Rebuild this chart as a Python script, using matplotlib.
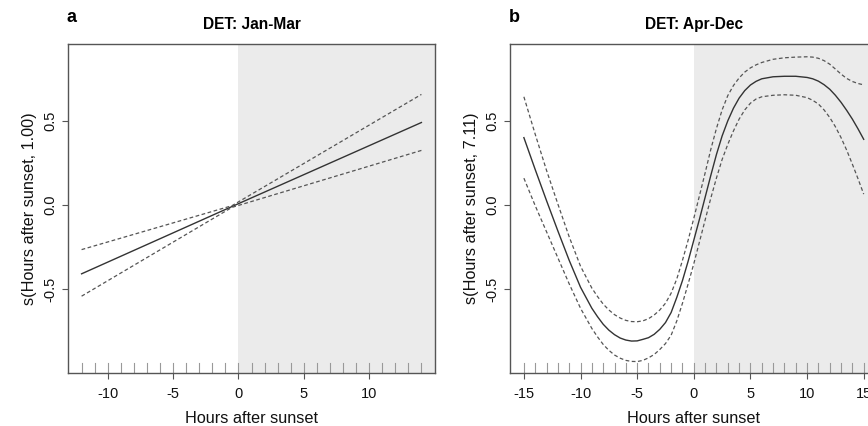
import matplotlib
matplotlib.use("Agg")
import matplotlib.pyplot as plt

plt.rcParams['font.family'] = ['Liberation Sans', 'DejaVu Sans']

# Panel a: DET Jan-Mar (linear smooth, edf 1.00)
x_a = [-12, -0.5, 14]
fit_a = [-0.41, -0.01, 0.49]
upper_a = [-0.266, -0.005, 0.657]
lower_a = [-0.543, -0.015, 0.324]
rug_a = list(range(-12, 15))
xticks_a = [-10, -5, 0, 5, 10]

# Panel b: DET Apr-Dec (edf 7.11)
x_b = [-15, -14, -13, -12, -11, -10, -9, -8.5, -8, -7.5, -7, -6.5, -6, -5.5, -5,
       -4.5, -4, -3.5, -3, -2.5, -2, -1.5, -1, -0.5, 0, 0.5, 1, 1.5, 2, 2.5, 3,
       3.5, 4, 4.5, 5, 5.5, 6, 7, 8, 9, 10, 10.5, 11, 11.5, 12, 12.5, 13, 13.5,
       14, 14.5, 15]
fit_b = [0.40, 0.21, 0.025, -0.155, -0.33, -0.49, -0.615, -0.665, -0.71, -0.745,
         -0.772, -0.792, -0.804, -0.81, -0.809,
         -0.80, -0.79, -0.77, -0.74, -0.70, -0.64, -0.55, -0.45, -0.335, -0.21,
         -0.085, 0.045, 0.175, 0.30, 0.41, 0.50,
         0.575, 0.635, 0.68, 0.713, 0.735, 0.75, 0.762, 0.765, 0.765, 0.758,
         0.75, 0.736, 0.715, 0.688, 0.652, 0.61, 0.562,
         0.51, 0.452, 0.39]
upper_b = [0.643, 0.42, 0.205, 0.005, -0.19, -0.365, -0.495, -0.545, -0.59, -0.625,
           -0.653, -0.673, -0.687, -0.694, -0.695,
           -0.69, -0.677, -0.655, -0.625, -0.585, -0.525, -0.44, -0.33, -0.21, -0.08,
           0.055, 0.19, 0.33, 0.455, 0.565, 0.65,
           0.71, 0.755, 0.79, 0.815, 0.833, 0.847, 0.866, 0.875, 0.879, 0.881,
           0.879, 0.872, 0.858, 0.837, 0.808, 0.778, 0.752,
           0.734, 0.722, 0.714]
lower_b = [0.159, -0.005, -0.16, -0.315, -0.47, -0.615, -0.735, -0.785, -0.83, -0.865,
           -0.893, -0.912, -0.925, -0.931, -0.932,
           -0.925, -0.91, -0.89, -0.86, -0.825, -0.775, -0.69, -0.585, -0.47, -0.35,
           -0.22, -0.09, 0.04, 0.16, 0.27, 0.36,
           0.44, 0.51, 0.565, 0.605, 0.63, 0.643, 0.652, 0.655, 0.652, 0.638,
           0.622, 0.60, 0.565, 0.52, 0.465, 0.40, 0.325,
           0.242, 0.155, 0.064]
rug_b = list(range(-15, 16))
xticks_b = [-15, -10, -5, 0, 5, 10, 15]

yticks = [-0.5, 0.0, 0.5]
ylim = (-1.0, 0.957)

fig = plt.figure(figsize=(8.68, 4.26), dpi=100)

W, H = 868, 426
def axrect(left, right, top, bottom):
    return [left / W, 1 - bottom / H, (right - left) / W, (bottom - top) / H]

ax_a = fig.add_axes(axrect(68, 435, 44, 373))
ax_b = fig.add_axes(axrect(510.3, 877.3, 44, 373))

panels = [
    (ax_a, x_a, fit_a, upper_a, lower_a, rug_a, xticks_a, "DET: Jan-Mar",
     "s(Hours after sunset, 1.00)", "a"),
    (ax_b, x_b, fit_b, upper_b, lower_b, rug_b, xticks_b, "DET: Apr-Dec",
     "s(Hours after sunset, 7.11)", "b"),
]

for ax, x, fit, up, lo, rug, xt, title, ylab, letter in panels:
    rng = max(x) - min(x)
    xmin, xmax = min(x) - 0.04 * rng, max(x) + 0.04 * rng
    ax.set_xlim(xmin, xmax)
    ax.set_ylim(*ylim)
    ax.axvspan(0, xmax, color='#EBEBEB', lw=0, zorder=0)
    ax.plot(x, fit, color='#333333', lw=1.0, zorder=3)
    ax.plot(x, up, color='#555555', lw=0.9, ls=(0, (3, 2)), zorder=3)
    ax.plot(x, lo, color='#555555', lw=0.9, ls=(0, (3, 2)), zorder=3)
    for r in rug:
        ax.plot([r, r], [ylim[0], ylim[0] + 0.058], color='#999999', lw=0.8, zorder=2)
    ax.set_xticks(xt)
    ax.set_xticklabels([str(v) for v in xt])
    ax.set_yticks(yticks)
    ax.set_yticklabels(["-0.5", "0.0", "0.5"], rotation=90, va='center')
    ax.tick_params(axis='both', direction='out', length=4, width=0.8,
                   color='#555555', labelsize=10.5, labelcolor='#111111')
    ax.tick_params(axis='x', pad=6)
    ax.tick_params(axis='y', pad=4)
    for s in ax.spines.values():
        s.set_color('#555555')
        s.set_linewidth(1.0)
    ax.set_xlabel("Hours after sunset", fontsize=11.7, color='#111111')
    ax.xaxis.set_label_coords(0.5, -0.115)
    ax.set_ylabel(ylab, fontsize=11.7, color='#111111')
    ax.yaxis.set_label_coords(-0.085, 0.5)
    ax.text(0.5, 1 + (44 - 24) / 329, title, transform=ax.transAxes,
            ha='center', va='center', fontsize=11.2, fontweight='bold')
    ax.text(-0.005, 1 + (44 - 17) / 329, letter, transform=ax.transAxes,
            ha='left', va='center', fontsize=13, fontweight='bold')

fig.savefig("out.png", dpi=100)
